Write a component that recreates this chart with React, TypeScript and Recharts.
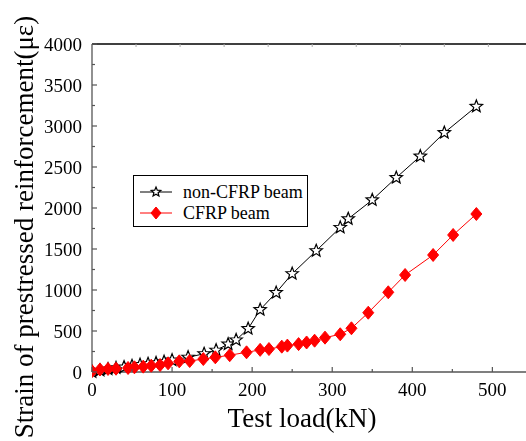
import React from "react";
import {
  LineChart,
  Line,
  XAxis,
  YAxis,
  Legend,
  Label,
  ReferenceLine,
} from "recharts";

// non-CFRP beam (black stars)
const loadPlain = [0, 10, 20, 30, 40, 50, 60, 70, 80, 90, 100, 120, 140, 155, 170, 180, 195, 210, 230, 250, 280, 310, 320, 350, 380, 410, 440, 480];
const strainPlain = [0, 20, 35, 50, 60, 75, 90, 100, 110, 125, 145, 180, 222, 265, 340, 390, 528, 760, 968, 1198, 1478, 1762, 1868, 2098, 2370, 2632, 2918, 3238];

// CFRP beam (red diamonds)
const loadCfrp = [0, 10, 20, 30, 45, 53, 64, 74, 85, 95, 109, 122, 139, 154, 172, 193, 210, 221, 237, 244, 258, 268, 278, 291, 310, 324, 345, 370, 391, 426, 451, 480];
const strainCfrp = [10, 30, 37, 40, 49, 57, 65, 77, 85, 106, 130, 134, 158, 179, 205, 240, 270, 280, 309, 322, 340, 360, 382, 419, 460, 533, 723, 972, 1183, 1427, 1671, 1927];

const xTicks = [0, 50, 100, 150, 200, 250, 300, 350, 400, 450, 500];
const topTicks = [55, 110, 165, 220, 275, 330, 385, 440, 495];
const yTicks = [0, 250, 500, 750, 1000, 1250, 1500, 1750, 2000, 2250, 2500, 2750, 3000, 3250, 3500, 3750, 4000];

const seriesNames = ["non-CFRP beam", "CFRP beam"];

const plainData = loadPlain.map((load, i) => ({ load, strain: strainPlain[i] }));
const cfrpData = loadCfrp.map((load, i) => ({ load, strain: strainCfrp[i] }));

const FONT = "Liberation Serif, Times New Roman, DejaVu Serif, serif";
const AXIS = "#555";
const txt = { fontFamily: FONT };

const starPoints = (cx: number, cy: number, ro: number, ri: number) => {
  const pts: string[] = [];
  for (let i = 0; i < 10; i++) {
    const r = i % 2 === 0 ? ro : ri;
    const a = -Math.PI / 2 + (i * Math.PI) / 5;
    pts.push(`${cx + r * Math.cos(a)},${cy + r * Math.sin(a)}`);
  }
  return pts.join(" ");
};

const Star = (props: any) => {
  const { cx, cy } = props;
  if (cx == null || cy == null) return null;
  return (
    <polygon
      key={`s-${cx}-${cy}`}
      points={starPoints(cx, cy, 6.5, 2.8)}
      fill="#fff"
      stroke="#000"
      strokeWidth={1.2}
    />
  );
};

const Diamond = (props: any) => {
  const { cx, cy } = props;
  if (cx == null || cy == null) return null;
  return (
    <polygon
      key={`d-${cx}-${cy}`}
      points={`${cx},${cy - 6.5} ${cx + 5.5},${cy} ${cx},${cy + 6.5} ${cx - 5.5},${cy}`}
      fill="#ff0000"
      stroke="#ff0000"
    />
  );
};

const BottomTick = (props: any) => {
  const { x, y, payload } = props;
  const major = payload.value % 100 === 0;
  return (
    <g>
      <line x1={x} x2={x} y1={y} y2={y - (major ? 5 : 3)} stroke={AXIS} strokeWidth={1.2} />
      {major && (
        <text x={x} y={y + 24} textAnchor="middle" fontSize={19} style={txt} fill="#000">
          {payload.value}
        </text>
      )}
    </g>
  );
};

const TopTick = (props: any) => {
  const { x, y } = props;
  return <line x1={x} x2={x} y1={y} y2={y + 3} stroke="#aaa" strokeWidth={1} />;
};

const LeftTick = (props: any) => {
  const { x, y, payload } = props;
  const major = payload.value % 500 === 0;
  return (
    <g>
      <line x1={x} x2={x + (major ? 5 : 3)} y1={y} y2={y} stroke={AXIS} strokeWidth={1.2} />
      {major && (
        <text x={x - 10} y={y + 6.5} textAnchor="end" fontSize={19} style={txt} fill="#000">
          {payload.value}
        </text>
      )}
    </g>
  );
};

const LegendBox = () => (
  <svg width={175} height={52} style={{ display: "block" }}>
    <rect x={0.5} y={0.5} width={174} height={51} fill="#fff" stroke="#000" strokeWidth={1} />
    <line x1={7} x2={39} y1={17} y2={17} stroke="#000" strokeWidth={1} />
    <polygon points={starPoints(23, 17, 5, 2.2)} fill="#fff" stroke="#000" strokeWidth={1.2} />
    <text x={50} y={23} fontSize={18} style={txt} fill="#000">
      {seriesNames[0]}
    </text>
    <line x1={7} x2={39} y1={38} y2={38} stroke="#ff0000" strokeWidth={1} />
    <polygon points="23,32 28,38 23,44 18,38" fill="#ff0000" stroke="#ff0000" />
    <text x={50} y={44} fontSize={18} style={txt} fill="#000">
      {seriesNames[1]}
    </text>
  </svg>
);

export default function App() {
  return (
    <div style={{ position: "fixed", left: 8, top: 8, width: 518, height: 433, overflow: "hidden" }}>
      <LineChart width={518} height={433} margin={{ top: 35, right: 0, left: 0, bottom: 0 }}>
        <XAxis
          type="number"
          dataKey="load"
          domain={[0, 542]}
          ticks={xTicks}
          interval={0}
          allowDataOverflow
          height={69}
          tickSize={0}
          tickMargin={0}
          tickLine={false}
          stroke={AXIS}
          strokeWidth={1.3}
          tick={<BottomTick />}
        >
          <Label
            content={(p: any) => {
              const vb = p.viewBox;
              return (
                <text x={vb.x + vb.width / 2 - 7} y={vb.y + 55} textAnchor="middle" fontSize={27} style={txt} fill="#000">
                  Test load(kN)
                </text>
              );
            }}
          />
        </XAxis>
        <XAxis
          xAxisId="top"
          orientation="top"
          type="number"
          dataKey="load"
          domain={[0, 542]}
          ticks={topTicks}
          interval={0}
          allowDataOverflow
          height={1}
          tickSize={0}
          tickMargin={0}
          tickLine={false}
          axisLine={false}
          tick={<TopTick />}
        />
        <YAxis
          type="number"
          dataKey="strain"
          domain={[0, 4000]}
          ticks={yTicks}
          interval={0}
          width={84}
          tickSize={0}
          tickMargin={0}
          tickLine={false}
          stroke={AXIS}
          strokeWidth={1.3}
          tick={<LeftTick />}
        >
          <Label
            content={() => (
              <text
                x={25}
                y={219}
                transform="rotate(-90 25 219)"
                textAnchor="middle"
                fontSize={27}
                style={txt}
                fill="#000"
              >
                Strain of prestressed reinforcement(με)
              </text>
            )}
          />
        </YAxis>
        <ReferenceLine y={4000} stroke="#000" strokeWidth={1.5} />
        <Legend
          layout="vertical"
          align="center"
          verticalAlign="middle"
          content={() => <LegendBox />}
          wrapperStyle={{ left: 125, top: 167, width: 175, height: 52 }}
        />
        <Line
          data={plainData}
          dataKey="strain"
          name={seriesNames[0]}
          stroke="#000"
          strokeWidth={1}
          dot={<Star />}
          isAnimationActive={false}
        />
        <Line
          data={cfrpData}
          dataKey="strain"
          name={seriesNames[1]}
          stroke="#ff0000"
          strokeWidth={1}
          dot={<Diamond />}
          isAnimationActive={false}
        />
      </LineChart>
    </div>
  );
}
